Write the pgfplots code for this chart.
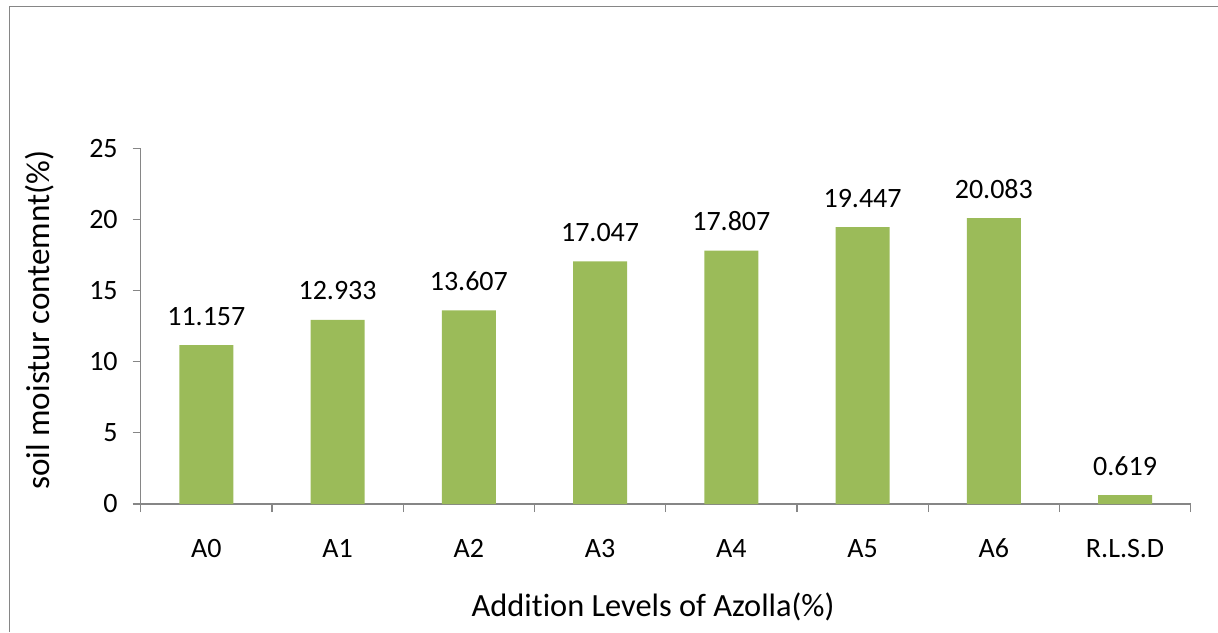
\documentclass[border=0pt]{standalone}
\usepackage{fontspec}
\setmainfont[Ligatures={NoCommon}]{Carlito}
\usepackage{pgfplots}
\pgfplotsset{compat=1.18}
\definecolor{bargreen}{HTML}{9BBB59}
\definecolor{axgray}{HTML}{868686}
\begin{document}
\begin{tikzpicture}[x=1pt,y=1pt]
\path[use as bounding box] (0,0) rectangle (609,316);
\draw[axgray, line width=0.7pt] (4.6,0) -- (4.6,312.6) -- (609,312.6);
\begin{axis}[
  at={(70.35pt,64pt)}, anchor=south west,
  scale only axis, width=525pt, height=177.9pt,
  xmin=-0.5, xmax=7.5, ymin=0, ymax=25,
  axis x line*=bottom, axis y line*=left,
  axis line style={axgray, line width=0.6pt},
  every tick/.style={axgray, line width=0.6pt},
  tick align=outside,
  major tick length=4pt,
  xtick={-0.5,0.5,...,7.5}, xticklabels={},
  extra x ticks={0,1,2,3,4,5,6,7},
  extra x tick labels={A0,A1,A2,A3,A4,A5,A6,R.L.S.D},
  extra x tick style={major tick length=0pt, tick label style={font=\fontsize{14}{16}\selectfont, yshift=-14pt}},
  ytick={0,5,10,15,20,25},
  yticklabel style={font=\fontsize{14}{16}\selectfont, xshift=-4pt},
  /pgf/number format/assume math mode=true,
  ylabel={soil moistur contemnt(\%)},
  xlabel={Addition Levels of Azolla(\%)},
  ylabel style={at={(axis description cs:-0.0959,0.517)}, anchor=center, rotate=0, font=\fontsize{16.6}{19}\selectfont},
  xlabel style={at={(axis description cs:0.488,-0.2895)}, anchor=center, font=\fontsize{16.2}{19}\selectfont},
  ybar, bar width=27pt, bar shift=0pt,
  nodes near coords,
  point meta=explicit symbolic,
  every node near coord/.append style={anchor=base, yshift=10pt, font=\fontsize{14}{16}\selectfont, black},
  clip=false,
]
\addplot[fill=bargreen, draw=none] table[meta=lab] {
x y lab
0 11.157 11.157
1 12.933 12.933
2 13.607 13.607
3 17.047 17.047
4 17.807 17.807
5 19.447 19.447
6 20.083 20.083
7 0.619 0.619
};
\end{axis}
\end{tikzpicture}
\end{document}
